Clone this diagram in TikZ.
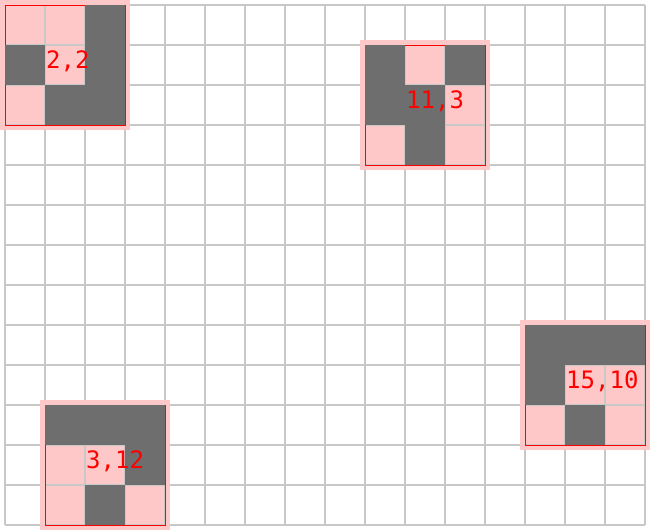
\documentclass[tikz,border=0pt]{standalone}
\usepackage{fontspec}
\newfontfamily\labelmono{DejaVu Sans Mono}
\definecolor{gridc}{RGB}{200,200,200}
\definecolor{pinkc}{RGB}{255,200,200}
\definecolor{darkc}{RGB}{110,110,110}
\definecolor{redc}{RGB}{255,0,0}
\tikzset{
  gridline/.style={draw=gridc, line width=2pt},
  halo/.style={fill=pinkc},
  darkcell/.style={fill=darkc},
  outline/.style={draw=redc, line width=0.9pt},
  lbl/.style={text=redc, font=\labelmono\fontsize{24pt}{24pt}\selectfont, inner sep=0pt, anchor=base west}
}
\newcommand\mygrid{%
  \foreach \i in {0,...,16} \draw[gridline] (5+40*\i,5) -- (5+40*\i,525);
  \foreach \j in {0,...,13} \draw[gridline] (5,5+40*\j) -- (645,5+40*\j);
}
% #1 col, #2 row (0-based top-left), #3 label, #4 node name, #5 list of dark cells dx/dy
\newcommand\mypatch[5]{%
  \pgfmathsetmacro\px{5+40*#1}\pgfmathsetmacro\py{5+40*#2}
  \fill[halo] (\px-5,\py-5) rectangle (\px+125,\py+125);
  \begin{scope}
    \clip (\px,\py) rectangle (\px+120,\py+120);
    \mygrid
  \end{scope}
  \draw[outline] (\px,\py) rectangle (\px+120,\py+120);
  \foreach \dx/\dy in {#5} \fill[darkcell] (\px+40*\dx-0.3,\py+40*\dy-0.3) rectangle (\px+40*\dx+40.3,\py+40*\dy+40.3);
  \node[lbl] (#4) at (\px+41,\py+63) {#3};
}
\begin{document}
\begin{tikzpicture}[x=1pt,y=-1pt]
\useasboundingbox (0,0) rectangle (650,530);
\fill[white] (0,0) rectangle (650,530);
\mygrid
\mypatch{0}{0}{2,2}{pa}{2/0,0/1,2/1,1/2,2/2}
\mypatch{9}{1}{11,3}{pb}{0/0,2/0,0/1,1/1,1/2}
\mypatch{13}{8}{15,10}{pc}{0/0,1/0,2/0,0/1,1/2}
\mypatch{1}{10}{3,12}{pd}{0/0,1/0,2/0,2/1,1/2}
\end{tikzpicture}
\end{document}
